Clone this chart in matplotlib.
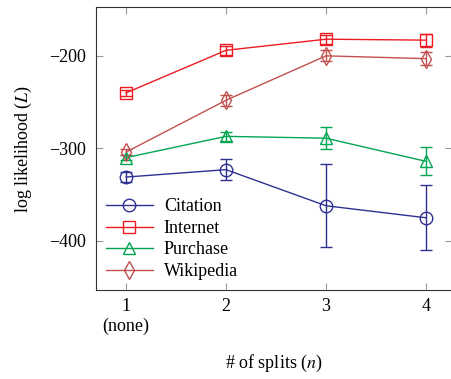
import matplotlib
matplotlib.use("Agg")
import matplotlib.pyplot as plt
from matplotlib.lines import Line2D

splits = [1, 2, 3, 4]
xtick_labels = ["1\n(none)", "2", "3", "4"]

citation = [-331, -323, -362, -375]
citation_err = [5, 11, 45, 35]
internet = [-240, -194, -182, -183]
internet_err = [3, 5, 5, 7]
purchase = [-310, -287, -289, -314]
purchase_err = [3, 5, 12, 15]
wikipedia = [-304, -248, -200, -203]
wikipedia_err = [3, 6, 6, 7]

plt.rcParams["font.family"] = ["Liberation Serif", "DejaVu Serif"]
plt.rcParams["mathtext.fontset"] = "stix"

fig = plt.figure(figsize=(4.51, 3.79), dpi=100)
ax = fig.add_axes([0.213, 0.235, 0.789, 0.747])

series = [
    ("Citation", citation, citation_err, "#2e3192", "o"),
    ("Internet", internet, internet_err, "#ed1c24", "s"),
    ("Purchase", purchase, purchase_err, "#00a651", "^"),
    ("Wikipedia", wikipedia, wikipedia_err, "#c1504f", "d"),
]
handles = []
for name, vals, errs, color, marker in series:
    ax.errorbar(splits, vals, yerr=errs, color=color, marker=marker,
                markerfacecolor="none", markeredgecolor=color,
                markersize=9, linewidth=1.0, elinewidth=1.0,
                capsize=4.5, capthick=1.0)
    handles.append(Line2D([], [], color=color, marker=marker,
                          markerfacecolor="none", markersize=9,
                          linewidth=1.0, label=name))

ax.set_xlim(0.7, 4.26)
ax.set_ylim(-453, -147)
ax.set_xticks(splits)
ax.set_xticklabels(xtick_labels)
ax.set_yticks([-400, -300, -200])
ax.set_yticklabels(["\u2212400", "\u2212300", "\u2212200"])
ax.tick_params(direction="in", length=5, color="#999999", labelsize=13,
               top=True, right=True, pad=7)
ax.tick_params(axis="x", pad=6)
for s in ax.spines.values():
    s.set_color("#333333")

ax.set_xlabel("# of splits ($n$)", fontsize=13, labelpad=13)
ax.set_ylabel("log likelihood ($L$)", fontsize=13, labelpad=11)

ax.legend(handles=handles, loc="lower left", frameon=False, fontsize=13,
          handlelength=2.6, handletextpad=0.6, labelspacing=0.25,
          borderaxespad=0.2, borderpad=0.35)

fig.savefig("out.png", dpi=100)
